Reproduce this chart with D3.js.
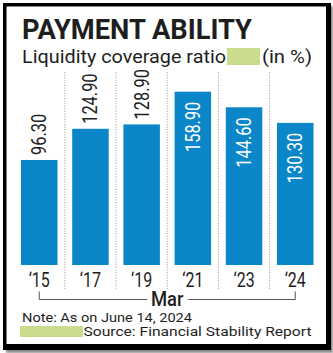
<!DOCTYPE html>
<html>
<head>
<meta charset="utf-8">
<script src="https://cdn.jsdelivr.net/npm/d3@7"></script>
<style>
  html, body { margin: 0; padding: 0; background: #ffffff; }
  svg { display: block; }
  text { font-family: Roboto, "Open Sans", sans-serif; fill: #1e1e1e; }
</style>
</head>
<body>
<script>
// Liquidity coverage ratio (in %), as of March each year
const categories = ["\u201815", "\u201817", "\u201819", "\u201821", "\u201823", "\u201824"];
const values = [96.30, 124.90, 128.90, 158.90, 144.60, 130.30];
const valueLabels = ["96.30", "124.90", "128.90", "158.90", "144.60", "130.30"];
const yDomain = [0, 160];

const title = "PAYMENT ABILITY";
const subtitle = "Liquidity coverage ratio";
const unit = "(in %)";
const axisCaption = "Mar";
const note = "Note: As on June 14, 2024";
const source = "Source: Financial Stability Report";

const W = 333, H = 353;
const barColor = "#0a86c9";
const accent = "#cadd8f";

const svg = d3.select("body").append("svg")
  .attr("width", W).attr("height", H);

// drop shadow + black frame
const defs = svg.append("defs");
defs.append("filter").attr("id", "soft")
  .append("feGaussianBlur").attr("stdDeviation", 1.2);

svg.append("rect").attr("x", 6).attr("y", 6).attr("width", 327).attr("height", 347)
  .attr("fill", "#8a8a8a").attr("filter", "url(#soft)");
svg.append("rect").attr("x", 3).attr("y", 3).attr("width", 328).attr("height", 347)
  .attr("fill", "#000");
svg.append("rect").attr("x", 6.5).attr("y", 6.5).attr("width", 319.5).attr("height", 337.5)
  .attr("fill", "#fff");

// headline
svg.append("text").attr("x", 22).attr("y", 38.5)
  .attr("font-size", 27).attr("font-weight", 700)
  .attr("textLength", 230).attr("lengthAdjust", "spacingAndGlyphs")
  .text(title);

svg.append("text").attr("x", 22).attr("y", 62.5)
  .attr("font-size", 18.5)
  .attr("textLength", 204).attr("lengthAdjust", "spacingAndGlyphs")
  .text(subtitle);
svg.append("rect").attr("x", 227).attr("y", 48).attr("width", 33).attr("height", 17)
  .attr("fill", accent);
svg.append("text").attr("x", 262).attr("y", 62.5)
  .attr("font-size", 18.5)
  .attr("textLength", 50).attr("lengthAdjust", "spacingAndGlyphs")
  .text(unit);

// scales
const x = d3.scaleBand().domain(categories).range([21, 313.5])
  .paddingInner(0.287).paddingOuter(0);
const y = d3.scaleLinear().domain(yDomain).range([265, 90.5]);

// dotted separators between columns
const gaps = categories.slice(0, -1).map(c => x(c) + x.bandwidth() + (x.step() - x.bandwidth()) / 2);
svg.append("g").selectAll("line").data(gaps).join("line")
  .attr("x1", d => d).attr("x2", d => d)
  .attr("y1", 72).attr("y2", 289)
  .attr("stroke", "#9a9a9a").attr("stroke-width", 1)
  .attr("stroke-dasharray", "1,1.6");

// bars
const rows = categories.map((c, i) => ({ cat: c, value: values[i], label: valueLabels[i] }));
svg.append("g").selectAll("rect").data(rows).join("rect")
  .attr("x", d => x(d.cat))
  .attr("y", d => y(d.value))
  .attr("width", x.bandwidth())
  .attr("height", d => y(0) - y(d.value))
  .attr("fill", barColor);

// value labels: above short bars, inside tall ones
const insideFrom = 130;
svg.append("g").selectAll("text").data(rows).join("text")
  .attr("transform", d => {
    const cx = x(d.cat) + x.bandwidth() / 2;
    const inside = d.value >= insideFrom;
    const ty = inside ? y(d.value) + 10 : y(d.value) - 5;
    return `translate(${cx},${ty}) rotate(-90) scale(0.84,1)`;
  })
  .attr("text-anchor", d => d.value >= insideFrom ? "end" : "start")
  .attr("dy", "0.36em")
  .attr("font-size", 19.5)
  .style("fill", d => d.value >= insideFrom ? "#ffffff" : "#1e1e1e")
  .text(d => d.label);

// category axis
const xAxis = d3.axisBottom(x).tickSize(0).tickPadding(0);
const axisG = svg.append("g").attr("transform", "translate(0,287)").call(xAxis);
axisG.select(".domain").remove();
axisG.selectAll(".tick text")
  .attr("y", 0).attr("dy", 0)
  .attr("font-size", 19.5)
  .attr("transform", "scale(0.82,1)")
  .style("font-family", "Roboto, sans-serif")
  .style("fill", "#1e1e1e");

// "Mar" bracket spanning the categories
const xFirst = x(categories[0]) + x.bandwidth() / 2;
const xLast = x(categories[categories.length - 1]) + x.bandwidth() / 2;
const xMid = (xFirst + xLast) / 2;
const bracket = svg.append("g").attr("stroke", "#555").attr("stroke-width", 1).attr("fill", "none");
bracket.append("path").attr("d", `M${xFirst},291.5V299.5H${xMid - 20}`);
bracket.append("path").attr("d", `M${xLast},291.5V299.5H${xMid + 21}`);
svg.append("text")
  .attr("transform", `translate(${xMid},306) scale(0.88,1)`)
  .attr("text-anchor", "middle")
  .attr("font-size", 21).attr("font-weight", 500)
  .text(axisCaption);

// footnotes
svg.append("text").attr("x", 22).attr("y", 322)
  .attr("font-size", 13)
  .attr("textLength", 170).attr("lengthAdjust", "spacingAndGlyphs")
  .text(note);
svg.append("rect").attr("x", 20).attr("y", 326).attr("width", 63).attr("height", 11)
  .attr("fill", accent);
svg.append("text").attr("x", 83.5).attr("y", 335.5)
  .attr("font-size", 13)
  .attr("textLength", 228).attr("lengthAdjust", "spacingAndGlyphs")
  .text(source);
</script>
</body>
</html>
